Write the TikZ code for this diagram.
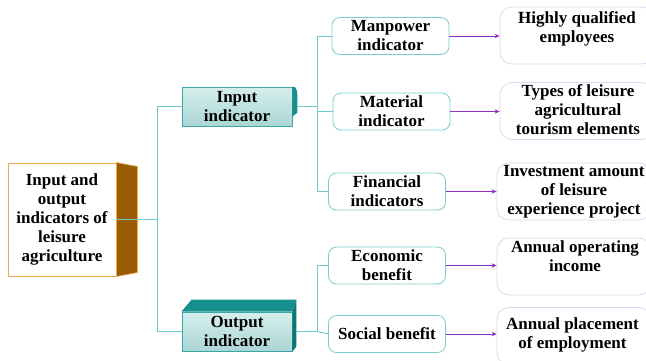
\documentclass[tikz,border=0pt]{standalone}
\usepackage{fontspec}
\setmainfont{Liberation Serif}
\usetikzlibrary{arrows.meta,calc}

\definecolor{tealline}{HTML}{6CCACA}
\definecolor{midborder}{HTML}{78CECE}
\definecolor{inborder}{HTML}{3AA6A6}
\definecolor{intop}{HTML}{D6EFED}
\definecolor{inbottom}{HTML}{AAD6D4}
\definecolor{darkteal}{HTML}{16908E}
\definecolor{darkteal2}{HTML}{0E7474}
\definecolor{brownside}{HTML}{9A5C02}
\definecolor{orangeborder}{HTML}{F2AA50}
\definecolor{endborder}{HTML}{DCD6EE}
\definecolor{arrowpurple}{HTML}{8E2EC2}

\begin{document}
\begin{tikzpicture}[x=1pt,y=-1pt,
  every node/.style={font=\fontsize{17}{19}\selectfont\bfseries, align=center, inner sep=0pt},
  link/.style={draw=tealline, line width=0.9pt},
  arrowlink/.style={draw=arrowpurple, line width=0.9pt, -{Stealth[length=5pt,width=4.5pt]}},
  rootbox/.style={draw=orangeborder, fill=white, line width=1pt, minimum width=108pt, minimum height=113pt},
  inbox/.style={draw=inborder, top color=intop, bottom color=inbottom, line width=0.9pt, minimum width=110pt, minimum height=39pt},
  midbox/.style={draw=midborder, fill=white, rounded corners=8pt, line width=0.8pt, minimum width=117pt, minimum height=37pt},
  endbox/.style={draw=endborder, fill=white, rounded corners=12pt, line width=0.8pt, minimum width=154pt, minimum height=57pt}]

\clip (0,0) rectangle (646,360);

% root block with its brown side face
\node[rootbox] (root) at (62,219.5) {Input and\\output\\indicators of\\leisure\\agriculture};
\filldraw[fill=brownside, draw=orangeborder, line width=0.6pt]
  (root.north east) -- ++(21,4) -- ($(root.south east)+(21,-4)$) -- (root.south east) -- cycle;

% second level blocks
\node[inbox] (in) at (237,106.5) {Input\\indicator};
\fill[darkteal] (in.north east) .. controls ($(in.north east)+(4,1)$) .. ($(in.north east)+(5,9)$)
  -- ($(in.north east)+(5,26)$) -- ($(in.north east)+(0,30)$) -- cycle;

\node[inbox] (out) at (237,331.5) {Output\\indicator};
\fill[darkteal] (out.north west) -- ++(10,-12) -- ($(out.north east)+(4,-12)$) -- (out.north east) -- cycle;
\fill[darkteal2] (out.north east) -- ++(4,-12) -- ($(out.south east)+(4,-5)$) -- (out.south east) -- cycle;

% third level blocks
\node[midbox] (m1) at (390.5,36) {Manpower\\indicator};
\node[midbox] (m2) at (391.5,111.5) {Material\\indicator};
\node[midbox] (m3) at (387,191.5) {Financial\\indicators};
\node[midbox] (m4) at (387,265.5) {Economic\\benefit};
\node[midbox] (m5) at (387,334) {Social benefit};

% outcome blocks
\node[endbox] (r1) at (577,35.5) {};
\node at (577,28.5) {Highly qualified\\employees};
\node[endbox] (r2) at (577,111) {};
\node at (578,110) {Types of leisure\\agricultural\\tourism elements};
\node[endbox] (r3) at (574,191.5) {};
\node at (574,192) {Investment amount\\of leisure\\experience project};
\node[endbox] (r4) at (574,266.5) {};
\node at (575,255.7) {Annual operating\\income};
\node[endbox] (r5) at (574,336) {};
\node at (572.5,334.7) {Annual placement\\of employment};

% tree connectors
\coordinate (jl) at (157,0);
\coordinate (jr) at (317,0);
\draw[link] (root.east) -- (root.east -| jl);
\draw[link] (in.west) -- (in.west -| jl) -- (out.west -| jl) -- (out.west);

\draw[link] ($(in.east)+(5,0)$) -- (in.east -| jr);
\draw[link] (m1.west -| jr) -- (m3.west -| jr);
\draw[link] (m1.west -| jr) -- (m1.west);
\draw[link] (m2.west -| jr) -- (m2.west);
\draw[link] (m3.west -| jr) -- (m3.west);

\draw[link] ($(out.east)+(4,0)$) -- (out.east -| jr);
\draw[link] (m4.west -| jr) -- (out.east -| jr);
\draw[link] (m4.west -| jr) -- (m4.west);
\draw[link] (out.east -| jr) -- (m5.west);

% outcome arrows
\draw[arrowlink] (m1.east) -- (m1.east -| r1.west);
\draw[arrowlink] (m2.east) -- (m2.east -| r2.west);
\draw[arrowlink] (m3.east) -- (m3.east -| r3.west);
\draw[arrowlink] (m4.east) -- (m4.east -| r4.west);
\draw[arrowlink] (m5.east) -- (m5.east -| r5.west);
\end{tikzpicture}
\end{document}
